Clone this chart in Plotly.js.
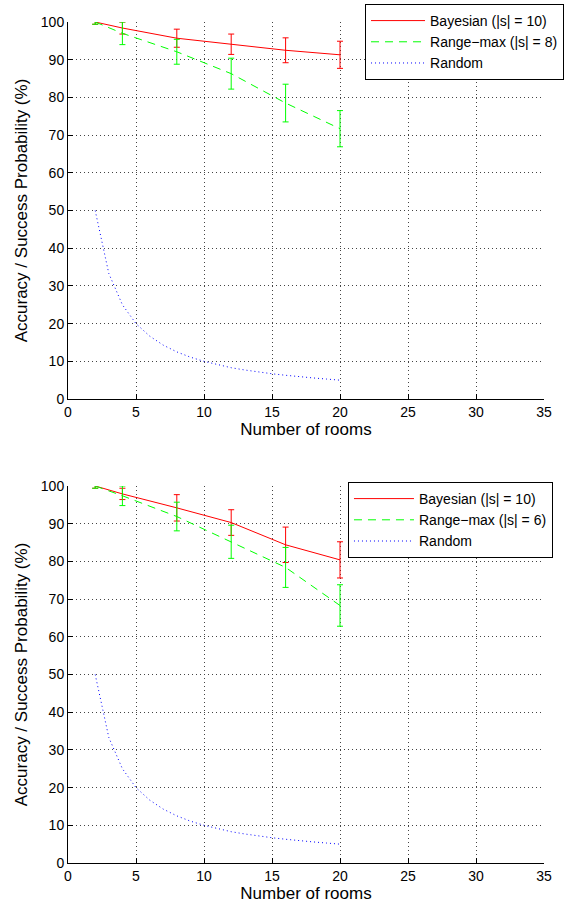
<!DOCTYPE html>
<html>
<head>
<meta charset="utf-8">
<script src="https://cdn.plot.ly/plotly-3.0.1.min.js"></script>
<style>html,body{margin:0;padding:0;background:#fff;}#chart{width:566px;height:905px;}</style>
</head>
<body>
<div id="chart"></div>
<script>
// ---- data ----
const roomsMeasured = [2, 4, 8, 12, 16, 20];

// top panel
const bayesTop = [100, 98.4, 95.7, 94.1, 92.5, 91.3];
const bayesTopErr = [0.6, 1.6, 2.4, 2.7, 3.3, 3.6];
const rangeTop = [100, 97.0, 92.1, 86.3, 78.5, 71.7];
const rangeTopErr = [0.6, 3.0, 3.3, 4.1, 5.0, 4.8];

// bottom panel
const bayesBottom = [100, 97.9, 94.2, 90.3, 84.4, 80.4];
const bayesBottomErr = [0.6, 1.5, 3.5, 3.4, 4.7, 4.8];
const rangeBottom = [100, 97.4, 91.9, 85.2, 78.4, 68.3];
const rangeBottomErr = [0.6, 2.6, 3.8, 4.4, 5.3, 5.5];

// random baseline
const roomsRandom = [2,3,4,5,6,7,8,9,10,11,12,13,14,15,16,17,18,19,20];
const randomVals = [50,33.3,25,20,16.7,14.3,12.5,11.1,10,9.1,8.3,7.7,7.1,6.7,6.3,5.9,5.6,5.3,5];

const namesTop = ['Bayesian (|s| = 10)', 'Range\u2212max (|s| = 8)', 'Random'];
const namesBottom = ['Bayesian (|s| = 10)', 'Range\u2212max (|s| = 6)', 'Random'];

// ---- styles ----
const FONT = 'Liberation Sans, Arial, Helvetica, sans-serif';
const RED = '#ff0000', GREEN = '#00ff00', BLUE = '#0000ff';

function series(x, y, err, name, color, dash, xa, ya, leg) {
  const t = {
    type: 'scatter', mode: 'lines', x: x, y: y, name: name,
    xaxis: xa, yaxis: ya, legend: leg,
    line: {color: color, width: 1, dash: dash},
    cliponaxis: true
  };
  if (err) t.error_y = {type: 'data', array: err, visible: true, color: color, thickness: 1, width: 3};
  return t;
}

const traces = [
  series(roomsMeasured, bayesTop, bayesTopErr, namesTop[0], RED, 'solid', 'x', 'y', 'legend'),
  series(roomsMeasured, rangeTop, rangeTopErr, namesTop[1], GREEN, '8px,6px', 'x', 'y', 'legend'),
  series(roomsRandom, randomVals, null, namesTop[2], BLUE, '1px,3px', 'x', 'y', 'legend'),
  series(roomsMeasured, bayesBottom, bayesBottomErr, namesBottom[0], RED, 'solid', 'x2', 'y2', 'legend2'),
  series(roomsMeasured, rangeBottom, rangeBottomErr, namesBottom[1], GREEN, '8px,6px', 'x2', 'y2', 'legend2'),
  series(roomsRandom, randomVals, null, namesBottom[2], BLUE, '1px,3px', 'x2', 'y2', 'legend2')
];

function xAxis(anchor) {
  return {
    anchor: anchor, domain: [0, 1], range: [0, 35], dtick: 5, tick0: 0,
    showline: true, linecolor: '#000', linewidth: 1, mirror: false,
    ticks: 'inside', ticklen: 5, tickcolor: '#000',
    showgrid: true, gridcolor: '#444', gridwidth: 1, griddash: '1px,3px',
    zeroline: false, tickfont: {family: FONT, size: 14, color: '#000'},
    title: {text: 'Number of rooms', font: {family: FONT, size: 17, color: '#000'}, standoff: 4},
    automargin: false, fixedrange: true
  };
}
function yAxis(anchor, domain) {
  return {
    anchor: anchor, domain: domain, range: [0, 100], dtick: 10, tick0: 0,
    showline: true, linecolor: '#000', linewidth: 1, mirror: false,
    ticks: 'inside', ticklen: 5, tickcolor: '#000',
    showgrid: true, gridcolor: '#444', gridwidth: 1, griddash: '1px,3px',
    zeroline: false, tickfont: {family: FONT, size: 14, color: '#000'},
    title: {text: 'Accuracy / Success Probability (%)', font: {family: FONT, size: 17, color: '#000'}, standoff: 8},
    automargin: false, fixedrange: true
  };
}

const legendStyle = {
  bgcolor: '#fff', bordercolor: '#000', borderwidth: 1,
  font: {family: FONT, size: 14, color: '#000'},
  xref: 'container', yref: 'container',
  xanchor: 'right', yanchor: 'top', tracegroupgap: 0
};

const layout = {
  width: 566, height: 905,
  margin: {l: 68, r: 22, t: 22, b: 42, autoexpand: false},
  paper_bgcolor: '#fff', plot_bgcolor: '#fff',
  showlegend: true,
  xaxis: xAxis('y'),
  yaxis: yAxis('x', [0.5517, 1]),
  xaxis2: xAxis('y2'),
  yaxis2: yAxis('x2', [0, 0.4483]),
  legend: Object.assign({x: 0.9965, y: 0.9956, itemwidth: 54}, legendStyle),
  legend2: Object.assign({x: 0.977, y: 0.4674, itemwidth: 60}, legendStyle)
};

Plotly.newPlot('chart', traces, layout, {displayModeBar: false, staticPlot: true});
</script>
</body>
</html>
